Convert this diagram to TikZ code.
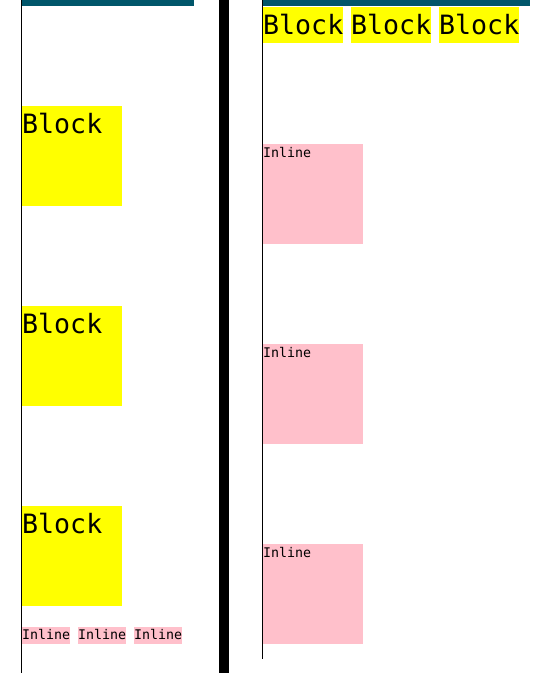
\documentclass[tikz,border=0pt]{standalone}
\usepackage{fontspec}
\newfontfamily\monofont{DejaVu Sans Mono}
\definecolor{headteal}{RGB}{0,86,106}
\definecolor{blockyellow}{RGB}{255,255,0}
\definecolor{inlinepink}{RGB}{255,192,203}
\begin{document}
\begin{tikzpicture}
[x=1pt,y=-1pt,
  blockdecorate/.style={fill=blockyellow,inner sep=0pt,anchor=north west,
    font=\monofont\fontsize{26.6}{30}\selectfont,text height=27pt},%
  inlinedecorate/.style={fill=inlinepink,inner sep=0pt,anchor=north west,
    font=\monofont\fontsize{13.3}{15}\selectfont},%
  linedecorate/.style={draw=black,line width=1pt}]
\useasboundingbox (0,0) rectangle (548,673);
%% column rules and header bars
\fill[headteal] (21,0) rectangle (194,6);
\fill[headteal] (262,0) rectangle (530,6);
\draw[linedecorate] (21.5,0) -- (21.5,673);
\draw[linedecorate] (262.5,0) -- (262.5,659);
\fill[black] (219,0) rectangle (229,673);
%% left column: stacked blocks
\foreach \nodename/\y in {lb1/106, lb2/306, lb3/506} {
  \node (\nodename) at (22,\y) [blockdecorate,text width=100pt,align=left,
    text depth=73pt] {Block};
}
%% left column: inline run
\foreach \nodename/\x in {li1/22, li2/78, li3/134} {
  \node (\nodename) at (\x,627) [inlinedecorate,text height=12pt,
    text depth=5pt] {Inline};
}
%% right column: block run
\foreach \nodename/\x in {rb1/263, rb2/351, rb3/439} {
  \node (\nodename) at (\x,7) [blockdecorate,text depth=9pt] {Block};
}
%% right column: stacked inlines
\foreach \nodename/\y in {ri1/144, ri2/344, ri3/544} {
  \node (\nodename) at (263,\y) [inlinedecorate,text width=100pt,align=left,
    text height=13.5pt,text depth=86.5pt] {Inline};
}
\end{tikzpicture}
\end{document}
